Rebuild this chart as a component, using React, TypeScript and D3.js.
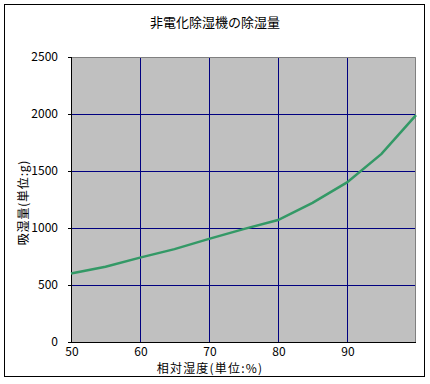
import React from "react";
import * as d3 from "d3";

const humidity = [50, 55, 60, 65, 70, 75, 80, 85, 90, 95, 100];
const absorbed = [600, 660, 740, 815, 905, 990, 1070, 1220, 1400, 1650, 1990];
const xTicks = [50, 60, 70, 80, 90];
const yTicks = [0, 500, 1000, 1500, 2000, 2500];
const title = "非電化除湿機の除湿量";
const xTitle = "相対湿度(単位:%)";
const yTitle = "吸湿量(単位:g)";

const W = 430;
const H = 384;
const left = 71;
const right = 416;
const top = 57;
const bottom = 342;
const font = "'Noto Sans CJK JP', 'Noto Sans', sans-serif";

export default function App() {
  const x = d3.scaleLinear().domain([50, 100]).range([left, right]);
  const y = d3.scaleLinear().domain([0, 2500]).range([bottom, top]);
  const pts: [number, number][] = humidity.map((h, i) => [h, absorbed[i]]);
  const line = d3
    .line<[number, number]>()
    .x((d) => x(d[0]))
    .y((d) => y(d[1]));

  return (
    <svg
      width={W}
      height={H}
      style={{ position: "absolute", left: 0, top: 0, background: "#fff" }}
      fontFamily={font}
    >
      <rect x={0} y={0} width={W} height={H} fill="#fff" />
      <rect x={4.5} y={4.5} width={420} height={372} fill="#fff" stroke="#000" strokeWidth={1} />
      <text x={215} y={27} textAnchor="middle" fontSize={13} fill="#000">
        {title}
      </text>
      <rect x={left} y={top} width={right - left} height={bottom - top} fill="#c0c0c0" />
      {yTicks
        .filter((t) => t > 0 && t < 2500)
        .map((t) => (
          <line
            key={"gy" + t}
            x1={left}
            x2={right}
            y1={Math.round(y(t)) + 0.5}
            y2={Math.round(y(t)) + 0.5}
            stroke="#000080"
            strokeWidth={1}
          />
        ))}
      {xTicks
        .filter((t) => t > 50)
        .map((t) => (
          <line
            key={"gx" + t}
            x1={Math.round(x(t)) + 0.5}
            x2={Math.round(x(t)) + 0.5}
            y1={top}
            y2={bottom}
            stroke="#000080"
            strokeWidth={1}
          />
        ))}
      <path
        d={`M${left},${top + 0.5}H${right - 0.5}V${bottom}`}
        fill="none"
        stroke="#808080"
        strokeWidth={1}
      />
      <line x1={left + 0.5} x2={left + 0.5} y1={top} y2={bottom + 1} stroke="#000" />
      <line x1={left} x2={right} y1={bottom + 0.5} y2={bottom + 0.5} stroke="#000" />
      {yTicks.map((t) => (
        <g key={"ty" + t}>
          <line
            x1={left - 3}
            x2={left}
            y1={Math.round(y(t)) + 0.5}
            y2={Math.round(y(t)) + 0.5}
            stroke="#000"
          />
          <text x={58} y={y(t) + 4} textAnchor="end" fontSize={12} fill="#000">
            {t}
          </text>
        </g>
      ))}
      {xTicks.map((t) => (
        <text key={"tx" + t} x={x(t) + 1} y={356} textAnchor="middle" fontSize={12} fill="#000">
          {t}
        </text>
      ))}
      <path d={line(pts) || ""} fill="none" stroke="#339966" strokeWidth={2.5} />
      <text x={210} y={373} textAnchor="middle" fontSize={12} letterSpacing={1.2} fill="#000">
        {xTitle}
      </text>
      <text
        transform={`translate(28,${(top + bottom) / 2 + 3}) rotate(-90)`}
        textAnchor="middle"
        fontSize={12}
        letterSpacing={0.8}
        fill="#000"
      >
        {yTitle}
      </text>
    </svg>
  );
}
